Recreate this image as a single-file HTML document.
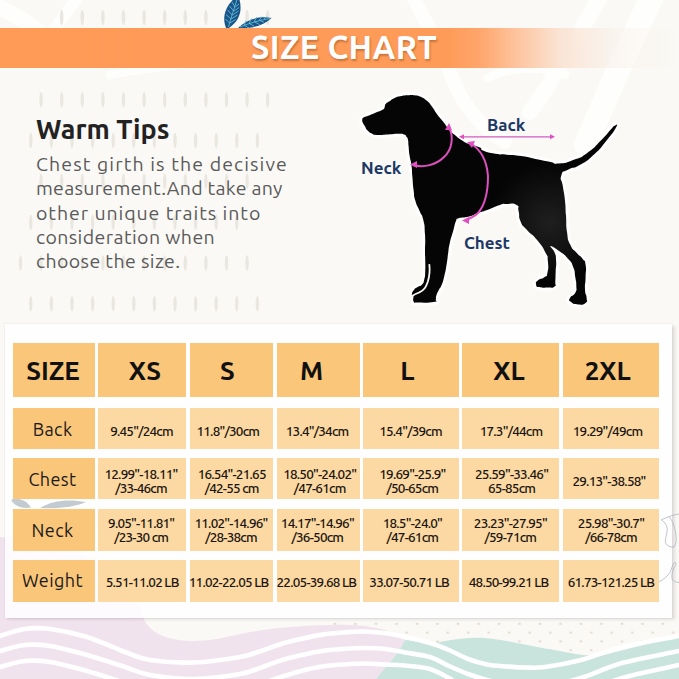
<!DOCTYPE html>
<html><head><meta charset="utf-8">
<style>
*{box-sizing:border-box}
html,body{margin:0;padding:0}
body{width:679px;height:679px;overflow:hidden;position:relative;background:#FAF9F5;font-family:"Ubuntu","Liberation Sans",sans-serif}
svg{position:absolute;left:0;top:0}
.banner{position:absolute;left:0;top:28px;width:679px;height:40px;background:linear-gradient(90deg,#FF9A57 0%,#FF9B59 66%,#FFA56B 70.5%,#FDC6A2 76.5%,#FAE4D5 82.5%,rgba(249,240,233,0.6) 90%,rgba(248,246,242,0) 100%)}
.banner span{position:absolute;left:251px;top:1px;font-weight:700;font-size:32.5px;color:#fff;letter-spacing:0.35px;text-shadow:1px 1.5px 2px rgba(120,60,20,0.4)}
.wt{position:absolute;left:36px;top:112px;font-size:27px;font-weight:700;line-height:34px;color:#222;white-space:nowrap}
.tl{position:absolute;left:36px;font-size:19.5px;font-weight:400;line-height:24px;color:#5a5a5a;white-space:nowrap}
.lbl{position:absolute;font-size:17px;font-weight:700;color:#1D3866}
.panel{position:absolute;left:5px;top:323.5px;width:667px;height:294px;background:rgba(255,255,255,0.86);box-shadow:0 0 1.5px rgba(60,50,60,0.16),3px 1.5px 3px rgba(60,50,60,0.13)}
.c{position:absolute;display:flex;align-items:center;justify-content:center;text-align:center}
.h{background:#FAC67A;font-weight:700;font-size:26px;color:#111}
.l{background:#FAC67A;font-size:18px;color:#1a1a1a;letter-spacing:0.4px}
.l span{position:relative;left:-1.5px;top:0px}
.d{background:#FCD8A2;font-size:13.5px;font-weight:500;line-height:14px;color:#1a1510;letter-spacing:-0.78px;white-space:nowrap;padding-top:5px}
</style></head>
<body>
<svg width="679" height="679" viewBox="0 0 679 679">
 <!-- faint white curves -->
 <g fill="none" stroke="#FFFFFF" stroke-width="12" opacity="0.85" stroke-linecap="round">
  <path d="M410,-8 C428,25 445,58 455,85 C468,112 485,130 505,142" stroke-width="14"/>
  <path d="M603,-8 C590,15 578,35 566,55 C555,75 545,92 530,112" stroke-width="16"/>
  <path d="M654,-8 C632,40 606,95 586,145" stroke-width="24"/>
  <path d="M488,78 C505,68 540,64 565,74" stroke-width="9"/>
  <path d="M52,34 C60,20 70,8 82,-8"/>
  <path d="M-5,5 C10,12 25,20 38,32" stroke-width="16"/>
  <path d="M110,75 C150,68 200,62 250,58" stroke-width="8"/>
 </g>
 <g fill="#EAE7E1"><ellipse cx="41.1" cy="99.8" rx="1.7" ry="7.8"/><ellipse cx="61.7" cy="99.8" rx="1.7" ry="7.8"/><ellipse cx="82.3" cy="99.8" rx="1.7" ry="7.8"/><ellipse cx="102.9" cy="99.8" rx="1.7" ry="7.8"/><ellipse cx="123.5" cy="99.8" rx="1.7" ry="7.8"/><ellipse cx="144.1" cy="99.8" rx="1.7" ry="7.8"/><ellipse cx="164.7" cy="99.8" rx="1.7" ry="7.8"/><ellipse cx="185.3" cy="99.8" rx="1.7" ry="7.8"/><ellipse cx="205.9" cy="99.8" rx="1.7" ry="7.8"/><ellipse cx="226.5" cy="99.8" rx="1.7" ry="7.8"/><ellipse cx="247.1" cy="99.8" rx="1.7" ry="7.8"/><ellipse cx="267.7" cy="99.8" rx="1.7" ry="7.8"/><ellipse cx="30.8" cy="140.6" rx="1.7" ry="7.8"/><ellipse cx="51.4" cy="140.6" rx="1.7" ry="7.8"/><ellipse cx="72.0" cy="140.6" rx="1.7" ry="7.8"/><ellipse cx="92.6" cy="140.6" rx="1.7" ry="7.8"/><ellipse cx="113.2" cy="140.6" rx="1.7" ry="7.8"/><ellipse cx="133.8" cy="140.6" rx="1.7" ry="7.8"/><ellipse cx="154.4" cy="140.6" rx="1.7" ry="7.8"/><ellipse cx="175.0" cy="140.6" rx="1.7" ry="7.8"/><ellipse cx="195.6" cy="140.6" rx="1.7" ry="7.8"/><ellipse cx="216.2" cy="140.6" rx="1.7" ry="7.8"/><ellipse cx="236.8" cy="140.6" rx="1.7" ry="7.8"/><ellipse cx="257.4" cy="140.6" rx="1.7" ry="7.8"/><ellipse cx="41.1" cy="181.4" rx="1.7" ry="7.8"/><ellipse cx="61.7" cy="181.4" rx="1.7" ry="7.8"/><ellipse cx="82.3" cy="181.4" rx="1.7" ry="7.8"/><ellipse cx="102.9" cy="181.4" rx="1.7" ry="7.8"/><ellipse cx="123.5" cy="181.4" rx="1.7" ry="7.8"/><ellipse cx="144.1" cy="181.4" rx="1.7" ry="7.8"/><ellipse cx="164.7" cy="181.4" rx="1.7" ry="7.8"/><ellipse cx="185.3" cy="181.4" rx="1.7" ry="7.8"/><ellipse cx="205.9" cy="181.4" rx="1.7" ry="7.8"/><ellipse cx="226.5" cy="181.4" rx="1.7" ry="7.8"/><ellipse cx="247.1" cy="181.4" rx="1.7" ry="7.8"/><ellipse cx="30.8" cy="222.2" rx="1.7" ry="7.8"/><ellipse cx="51.4" cy="222.2" rx="1.7" ry="7.8"/><ellipse cx="72.0" cy="222.2" rx="1.7" ry="7.8"/><ellipse cx="92.6" cy="222.2" rx="1.7" ry="7.8"/><ellipse cx="113.2" cy="222.2" rx="1.7" ry="7.8"/><ellipse cx="133.8" cy="222.2" rx="1.7" ry="7.8"/><ellipse cx="154.4" cy="222.2" rx="1.7" ry="7.8"/><ellipse cx="175.0" cy="222.2" rx="1.7" ry="7.8"/><ellipse cx="195.6" cy="222.2" rx="1.7" ry="7.8"/><ellipse cx="216.2" cy="222.2" rx="1.7" ry="7.8"/><ellipse cx="236.8" cy="222.2" rx="1.7" ry="7.8"/><ellipse cx="20.5" cy="263" rx="1.7" ry="7.8"/><ellipse cx="41.1" cy="263" rx="1.7" ry="7.8"/><ellipse cx="61.7" cy="263" rx="1.7" ry="7.8"/><ellipse cx="82.3" cy="263" rx="1.7" ry="7.8"/><ellipse cx="102.9" cy="263" rx="1.7" ry="7.8"/><ellipse cx="123.5" cy="263" rx="1.7" ry="7.8"/><ellipse cx="144.1" cy="263" rx="1.7" ry="7.8"/><ellipse cx="164.7" cy="263" rx="1.7" ry="7.8"/><ellipse cx="185.3" cy="263" rx="1.7" ry="7.8"/><ellipse cx="205.9" cy="263" rx="1.7" ry="7.8"/><ellipse cx="226.5" cy="263" rx="1.7" ry="7.8"/><ellipse cx="247.1" cy="263" rx="1.7" ry="7.8"/><ellipse cx="30.8" cy="303.8" rx="1.7" ry="7.8"/><ellipse cx="51.4" cy="303.8" rx="1.7" ry="7.8"/><ellipse cx="72.0" cy="303.8" rx="1.7" ry="7.8"/><ellipse cx="92.6" cy="303.8" rx="1.7" ry="7.8"/><ellipse cx="113.2" cy="303.8" rx="1.7" ry="7.8"/><ellipse cx="133.8" cy="303.8" rx="1.7" ry="7.8"/><ellipse cx="154.4" cy="303.8" rx="1.7" ry="7.8"/><ellipse cx="175.0" cy="303.8" rx="1.7" ry="7.8"/><ellipse cx="195.6" cy="303.8" rx="1.7" ry="7.8"/><ellipse cx="216.2" cy="303.8" rx="1.7" ry="7.8"/><ellipse cx="236.8" cy="303.8" rx="1.7" ry="7.8"/><ellipse cx="257.4" cy="303.8" rx="1.7" ry="7.8"/></g>
 <g fill="#EAE7E1">
  <ellipse cx="61.7" cy="17.5" rx="1.8" ry="7.8"/><ellipse cx="82.3" cy="17.5" rx="1.8" ry="7.8"/><ellipse cx="102.9" cy="17.5" rx="1.8" ry="7.8"/><ellipse cx="123.5" cy="17.5" rx="1.8" ry="7.8"/>
  <ellipse cx="144.1" cy="17.5" rx="1.8" ry="7.8"/><ellipse cx="164.7" cy="17.5" rx="1.8" ry="7.8"/><ellipse cx="185.3" cy="17.5" rx="1.8" ry="7.8"/>
  <ellipse cx="205.9" cy="17.5" rx="1.8" ry="7.8"/><ellipse cx="247.1" cy="17.5" rx="1.8" ry="7.8"/><ellipse cx="267.7" cy="17.5" rx="1.8" ry="7.8"/>
 </g>
 <!-- leaves -->
 <g>
  <path d="M226,28 C221,15 227,4 238,-5 C243,8 241,20 229,28 Z" fill="#1A5589"/>
  <g stroke="#63BCD3" stroke-width="0.9" fill="none">
   <path d="M228.5,27 C231,18 234,9 237.5,-2"/>
   <path d="M229.5,23 L225.5,19 M230.8,19 L226,14.5 M232.2,15 L227.5,10 M233.6,11 L229.5,6 M235,7 L232,2"/>
   <path d="M230,23 L235.5,19.5 M231.2,19 L237.5,15 M232.6,15 L238.5,11 M234,11 L239,7.5 M235.4,7 L239,4"/>
  </g>
  <path d="M238,28 C246,20 258,15.5 271.5,18 C264,25 252,29.5 238,28 Z" fill="#1A5589"/>
  <g stroke="#63BCD3" stroke-width="0.9" fill="none">
   <path d="M240,27 C250,23 260,20 270,18.5"/>
   <path d="M244,25.5 L246,20.5 M249,23.6 L251.5,18.5 M254,21.8 L257,17 M259,20.3 L262,16.5 M264,19.2 L266.5,16.6"/>
   <path d="M244.5,25.5 L249,28 M249.5,23.6 L254.5,26.5 M254.5,21.8 L259.5,24.5 M259.5,20.3 L264,22.3"/>
  </g>
 </g>
 <!-- bottom decorations -->
 <defs>
  <pattern id="dots" x="0" y="0" width="20.5" height="17.6" patternUnits="userSpaceOnUse" patternTransform="translate(335,623.8)">
   <ellipse cx="0" cy="0" rx="1.5" ry="0.9" fill="#E2D9CD"/><ellipse cx="20.5" cy="0" rx="1.5" ry="0.9" fill="#E2D9CD"/>
   <ellipse cx="10.25" cy="8.8" rx="1.5" ry="0.9" fill="#E2D9CD"/>
   <ellipse cx="0" cy="17.6" rx="1.5" ry="0.9" fill="#E2D9CD"/><ellipse cx="20.5" cy="17.6" rx="1.5" ry="0.9" fill="#E2D9CD"/>
  </pattern>
 </defs>
 <rect x="330" y="618" width="349" height="45" fill="url(#dots)"/>
 <path d="M0,537 C60,540 110,560 133,590 C139,602 141,610 143,617 C148,631 163,640 190,641 C215,641 225,637 240,634 C265,629 290,626 330,625 C350,624 368,625 385,630 L405,640 C400,652 388,664 376,679 L0,679 Z" fill="#F1E3EE"/>
 <path d="M405,640 C420,642 430,643 440,642 C460,638 478,636 497,639.4 C516,642 535,647 554,650 C570,653 585,656 600,656 L679,636 L679,679 L376,679 C388,664 400,652 405,640 Z" fill="#C9E3DD"/>
 <g fill="none" stroke="#FFFFFF" stroke-width="4.6" stroke-linecap="round">
  <path d="M-6.0,639.0C-5.0,638.5 -5.2,637.7 0.0,636.0C5.2,634.3 16.7,630.2 25.0,629.0C33.3,627.8 39.7,627.7 50.0,629.0C60.3,630.3 74.5,633.2 87.0,637.0C99.5,640.8 114.5,648.2 125.0,652.0C135.5,655.8 138.3,658.2 150.0,660.0C161.7,661.8 180.0,663.0 195.0,662.5C210.0,662.0 229.0,658.9 240.0,657.0C251.0,655.1 254.2,653.2 261.0,651.0C267.8,648.8 274.2,646.0 281.0,644.0C287.8,642.0 295.2,640.3 302.0,638.7C308.8,637.1 315.2,635.6 322.0,634.6C328.8,633.6 336.0,633.0 343.0,632.5C350.0,632.0 356.0,631.2 364.0,631.5C372.0,631.8 380.0,632.1 391.0,634.0C402.0,635.9 420.3,640.3 430.0,643.0C439.7,645.7 442.7,647.3 449.0,650.0C455.3,652.7 461.7,656.6 468.0,659.0C474.3,661.4 480.5,663.2 487.0,664.5C493.5,665.8 500.5,666.0 507.0,666.5C513.5,667.0 519.7,667.4 526.0,667.5C532.3,667.6 535.8,668.2 545.0,667.0C554.2,665.8 568.2,663.3 581.0,660.0C593.8,656.7 605.7,651.0 622.0,647.0C638.3,643.0 667.7,638.3 679.0,636.0C690.3,633.7 688.2,633.5 690.0,633.0"/>
  <path d="M-6.0,654.0C-5.0,653.5 -5.2,652.5 0.0,651.0C5.2,649.5 16.7,645.8 25.0,645.0C33.3,644.2 39.7,644.3 50.0,646.0C60.3,647.7 74.5,651.5 87.0,655.0C99.5,658.5 114.5,663.7 125.0,667.0C135.5,670.3 138.3,673.0 150.0,675.0C161.7,677.0 180.0,679.2 195.0,679.0C210.0,678.8 229.0,675.9 240.0,674.0C251.0,672.1 254.2,669.9 261.0,667.6C267.8,665.3 274.2,662.5 281.0,660.4C287.8,658.3 295.2,656.6 302.0,655.0C308.8,653.4 315.2,652.0 322.0,651.0C328.8,650.0 336.0,649.5 343.0,649.0C350.0,648.5 357.0,648.0 364.0,648.0C371.0,648.0 378.2,648.2 385.0,649.0C391.8,649.8 397.5,651.2 405.0,652.5C412.5,653.8 422.7,654.8 430.0,657.0C437.3,659.2 442.7,663.2 449.0,666.0C455.3,668.8 461.7,671.7 468.0,674.0C474.3,676.3 480.5,678.3 487.0,680.0C493.5,681.7 497.3,683.0 507.0,684.0C516.7,685.0 532.7,687.0 545.0,686.0C557.3,685.0 568.2,681.8 581.0,678.0C593.8,674.2 605.7,667.5 622.0,663.0C638.3,658.5 667.7,653.5 679.0,651.0C690.3,648.5 688.2,648.5 690.0,648.0"/>
  <path d="M-6.0,670.0C-5.0,669.5 -5.2,668.5 0.0,667.0C5.2,665.5 16.7,661.8 25.0,661.0C33.3,660.2 39.7,660.3 50.0,662.0C60.3,663.7 74.5,667.5 87.0,671.0C99.5,674.5 114.5,679.7 125.0,683.0C135.5,686.3 138.3,689.0 150.0,691.0C161.7,693.0 180.0,695.2 195.0,695.0C210.0,694.8 229.0,691.8 240.0,690.0C251.0,688.2 254.2,686.2 261.0,684.0C267.8,681.8 274.2,679.2 281.0,677.0C287.8,674.8 295.2,672.5 302.0,670.7C308.8,669.0 315.2,667.5 322.0,666.5C328.8,665.5 336.0,665.0 343.0,664.5C350.0,664.0 357.0,663.5 364.0,663.5C371.0,663.5 377.3,664.1 385.0,664.5C392.7,664.9 402.5,665.2 410.0,666.0C417.5,666.8 423.5,667.0 430.0,669.0C436.5,671.0 442.7,674.8 449.0,678.0C455.3,681.2 452.0,684.3 468.0,688.0C484.0,691.7 526.2,699.2 545.0,700.0C563.8,700.8 568.2,696.7 581.0,693.0C593.8,689.3 605.7,682.7 622.0,678.0C638.3,673.3 667.7,667.7 679.0,665.0C690.3,662.3 688.2,662.5 690.0,662.0"/>
 </g>
</svg>

<div class="banner"><span>SIZE CHART</span></div>

<div class="wt">Warm Tips</div>
<div class="tl" style="top:152px;letter-spacing:1.1px">Chest girth is the decisive</div>
<div class="tl" style="top:176px;letter-spacing:0.29px">measurement.And take any</div>
<div class="tl" style="top:200.5px;letter-spacing:0.93px">other unique traits into</div>
<div class="tl" style="top:224.5px;letter-spacing:0.4px">consideration when</div>
<div class="tl" style="top:249px;letter-spacing:0.38px">choose the size.</div>

<svg width="679" height="330" viewBox="0 0 679 330">
 <defs><radialGradient id="dg" cx="550" cy="222" r="60" gradientUnits="userSpaceOnUse"><stop offset="0" stop-color="#1f1f1f"/><stop offset="0.65" stop-color="#0e0e0e"/><stop offset="1" stop-color="#050505"/></radialGradient></defs>
 <path d="M362.3,119.8C362.5,117.9 362.1,118.7 363.6,117.5C365.1,116.3 363.1,117.8 366.9,116.3C370.7,114.8 369.7,115.2 374.9,113.0C380.1,110.8 379.4,111.7 382.6,109.8C385.8,107.9 383.6,109.2 384.6,107.3C385.6,105.4 384.1,106.0 385.7,104.0C387.3,102.0 386.5,103.2 389.5,101.2C392.5,99.2 390.8,99.6 394.8,97.9C398.8,96.2 397.0,96.9 401.4,96.0C405.8,95.1 403.6,95.4 408.0,95.2C412.4,95.0 410.6,94.8 414.6,95.3C418.6,95.8 416.0,94.8 420.0,96.6C424.0,98.4 422.6,97.3 426.6,100.6C430.6,103.9 428.4,102.0 431.9,106.6C435.4,111.2 433.5,109.6 437.2,114.5C440.9,119.4 439.1,116.6 443.0,121.4C446.9,126.2 444.9,124.5 448.8,129.0C452.7,133.5 450.1,131.0 454.6,134.8C459.1,138.6 457.1,137.3 462.2,140.5C467.3,143.7 464.2,142.2 469.9,144.4C475.6,146.6 474.8,145.1 479.4,147.2C484.0,149.3 478.3,148.5 483.6,150.7C488.9,152.9 487.5,152.4 495.3,153.7C503.1,155.0 498.4,153.9 507.1,154.7C515.8,155.5 511.9,154.7 521.3,156.1C530.7,157.5 526.0,157.0 535.4,158.9C544.8,160.8 541.6,160.1 549.5,161.7C557.4,163.3 551.1,164.1 559.0,163.6C566.9,163.1 563.7,163.6 573.1,160.1C582.5,156.6 577.8,159.7 587.2,153.0C596.6,146.3 593.5,147.8 601.4,140.0C609.3,132.2 606.4,134.2 610.8,129.5C615.2,124.8 612.8,126.5 614.5,125.8C616.2,125.1 618.8,122.4 616.0,127.5C613.2,132.6 613.2,132.3 606.0,141.2C598.8,150.1 602.9,146.3 594.3,154.2C585.7,162.1 588.8,159.7 580.2,164.8C571.6,169.9 574.7,166.0 568.4,169.5C562.1,173.0 563.1,169.7 561.3,175.4C559.5,181.1 561.7,178.0 562.9,186.5C564.1,195.0 564.0,191.3 565.0,200.9C566.0,210.5 565.3,205.1 566.0,215.4C566.7,225.7 565.6,222.3 567.0,231.9C568.4,241.5 567.0,237.3 570.1,244.2C573.2,251.1 572.2,247.7 576.3,252.5C580.4,257.3 579.4,254.6 582.5,258.7C585.6,262.8 584.6,258.6 585.6,264.8C586.6,271.0 585.8,268.9 585.6,277.2C585.4,285.5 584.7,282.7 585.0,289.6C585.3,296.5 586.4,293.3 586.6,297.8C586.8,302.3 588.3,300.8 585.6,303.0C582.9,305.2 583.2,304.7 578.4,304.4C573.6,304.1 573.9,304.2 571.1,302.0C568.3,299.8 568.7,300.9 570.1,297.8C571.5,294.7 573.2,296.8 575.3,292.7C577.4,288.6 576.3,290.7 576.3,285.5C576.3,280.3 576.3,283.4 575.3,277.2C574.3,271.0 575.6,273.1 573.2,266.9C570.8,260.7 572.5,263.9 568.0,258.7C563.5,253.5 565.6,255.5 559.8,251.4C554.0,247.3 552.2,245.9 550.5,246.3C548.8,246.7 552.7,247.7 554.6,252.5C556.5,257.3 555.7,254.5 556.1,260.7C556.5,266.9 556.0,264.1 555.7,271.0C555.4,277.9 555.7,276.1 555.3,281.3C554.9,286.5 557.2,284.4 554.6,286.5C552.0,288.6 552.5,287.3 547.4,287.5C542.3,287.7 543.0,288.1 539.2,287.1C535.4,286.1 536.5,286.7 536.1,284.4C535.7,282.1 535.4,282.7 538.1,280.3C540.8,277.9 541.2,279.6 544.3,277.2C547.4,274.8 546.2,278.6 547.4,273.1C548.6,267.6 548.5,267.6 547.8,260.7C547.1,253.8 549.0,259.4 545.4,252.5C541.8,245.6 543.3,247.7 537.1,240.1C530.9,232.5 532.3,236.0 526.8,229.8C521.3,223.6 523.3,227.7 520.6,221.5C517.9,215.3 520.0,216.7 518.6,211.2C517.2,205.7 520.6,207.4 516.5,205.0C512.4,202.6 511.7,204.0 506.2,204.0C500.7,204.0 505.8,203.2 500.0,205.0C494.2,206.8 496.0,206.7 488.7,209.4C481.4,212.1 484.5,210.6 478.0,213.0C471.5,215.4 475.7,214.7 469.2,216.5C462.7,218.3 463.0,216.8 458.6,218.3C454.2,219.8 457.8,216.9 456.0,221.0C454.2,225.1 455.4,223.3 453.3,230.6C451.2,237.9 451.5,235.6 449.8,243.0C448.1,250.4 449.2,245.9 448.2,252.7C447.2,259.5 448.1,255.4 446.8,263.3C445.5,271.2 446.0,269.2 444.2,276.5C442.4,283.8 443.3,280.9 441.5,285.3C439.7,289.7 440.7,286.2 438.9,289.8C437.1,293.4 437.2,292.8 436.2,296.0C435.2,299.2 436.7,297.5 435.8,299.5C434.9,301.5 439.6,301.1 433.6,302.1C427.6,303.1 424.3,302.7 417.7,302.6C411.1,302.5 415.2,303.9 413.7,301.7C412.2,299.5 413.9,298.5 413.3,296.0C412.7,293.5 411.6,296.3 411.9,294.2C412.2,292.1 412.2,292.2 414.1,289.8C416.0,287.4 415.0,288.9 417.7,287.1C420.4,285.3 419.9,287.1 422.1,284.5C424.3,281.9 423.3,283.3 424.3,279.2C425.3,275.1 424.9,278.9 425.2,272.1C425.5,265.3 425.3,265.5 425.2,258.8C425.1,252.1 425.1,260.1 425.0,251.9C424.9,243.7 425.6,244.8 425.0,234.2C424.4,223.6 425.1,227.7 423.3,220.0C421.5,212.3 422.4,217.7 419.7,211.2C417.0,204.7 417.3,207.7 415.3,200.6C413.3,193.5 414.6,197.9 413.6,190.0C412.6,182.1 413.1,185.1 412.4,176.9C411.7,168.7 412.4,172.4 411.5,165.4C410.6,158.4 410.6,162.2 409.6,155.8C408.6,149.4 409.1,151.6 408.6,146.3C408.1,141.0 408.6,143.1 408.0,140.0C407.4,136.9 408.0,138.9 406.7,137.0C405.4,135.1 406.7,135.5 404.0,134.4C401.3,133.3 404.0,133.7 398.7,133.7C393.4,133.7 395.6,134.0 388.1,134.4C380.6,134.8 381.5,135.2 376.2,135.0C370.9,134.8 375.1,135.2 372.2,133.7C369.3,132.2 370.0,132.8 367.6,130.4C365.2,128.0 366.5,128.8 365.0,126.4C363.5,124.0 363.9,125.3 363.0,123.1C362.1,120.9 362.1,121.7 362.3,119.8Z" fill="none" stroke="#FFFFFF" stroke-width="6" stroke-linejoin="round" opacity="0.85"/>
 <path d="M362.3,119.8C362.5,117.9 362.1,118.7 363.6,117.5C365.1,116.3 363.1,117.8 366.9,116.3C370.7,114.8 369.7,115.2 374.9,113.0C380.1,110.8 379.4,111.7 382.6,109.8C385.8,107.9 383.6,109.2 384.6,107.3C385.6,105.4 384.1,106.0 385.7,104.0C387.3,102.0 386.5,103.2 389.5,101.2C392.5,99.2 390.8,99.6 394.8,97.9C398.8,96.2 397.0,96.9 401.4,96.0C405.8,95.1 403.6,95.4 408.0,95.2C412.4,95.0 410.6,94.8 414.6,95.3C418.6,95.8 416.0,94.8 420.0,96.6C424.0,98.4 422.6,97.3 426.6,100.6C430.6,103.9 428.4,102.0 431.9,106.6C435.4,111.2 433.5,109.6 437.2,114.5C440.9,119.4 439.1,116.6 443.0,121.4C446.9,126.2 444.9,124.5 448.8,129.0C452.7,133.5 450.1,131.0 454.6,134.8C459.1,138.6 457.1,137.3 462.2,140.5C467.3,143.7 464.2,142.2 469.9,144.4C475.6,146.6 474.8,145.1 479.4,147.2C484.0,149.3 478.3,148.5 483.6,150.7C488.9,152.9 487.5,152.4 495.3,153.7C503.1,155.0 498.4,153.9 507.1,154.7C515.8,155.5 511.9,154.7 521.3,156.1C530.7,157.5 526.0,157.0 535.4,158.9C544.8,160.8 541.6,160.1 549.5,161.7C557.4,163.3 551.1,164.1 559.0,163.6C566.9,163.1 563.7,163.6 573.1,160.1C582.5,156.6 577.8,159.7 587.2,153.0C596.6,146.3 593.5,147.8 601.4,140.0C609.3,132.2 606.4,134.2 610.8,129.5C615.2,124.8 612.8,126.5 614.5,125.8C616.2,125.1 618.8,122.4 616.0,127.5C613.2,132.6 613.2,132.3 606.0,141.2C598.8,150.1 602.9,146.3 594.3,154.2C585.7,162.1 588.8,159.7 580.2,164.8C571.6,169.9 574.7,166.0 568.4,169.5C562.1,173.0 563.1,169.7 561.3,175.4C559.5,181.1 561.7,178.0 562.9,186.5C564.1,195.0 564.0,191.3 565.0,200.9C566.0,210.5 565.3,205.1 566.0,215.4C566.7,225.7 565.6,222.3 567.0,231.9C568.4,241.5 567.0,237.3 570.1,244.2C573.2,251.1 572.2,247.7 576.3,252.5C580.4,257.3 579.4,254.6 582.5,258.7C585.6,262.8 584.6,258.6 585.6,264.8C586.6,271.0 585.8,268.9 585.6,277.2C585.4,285.5 584.7,282.7 585.0,289.6C585.3,296.5 586.4,293.3 586.6,297.8C586.8,302.3 588.3,300.8 585.6,303.0C582.9,305.2 583.2,304.7 578.4,304.4C573.6,304.1 573.9,304.2 571.1,302.0C568.3,299.8 568.7,300.9 570.1,297.8C571.5,294.7 573.2,296.8 575.3,292.7C577.4,288.6 576.3,290.7 576.3,285.5C576.3,280.3 576.3,283.4 575.3,277.2C574.3,271.0 575.6,273.1 573.2,266.9C570.8,260.7 572.5,263.9 568.0,258.7C563.5,253.5 565.6,255.5 559.8,251.4C554.0,247.3 552.2,245.9 550.5,246.3C548.8,246.7 552.7,247.7 554.6,252.5C556.5,257.3 555.7,254.5 556.1,260.7C556.5,266.9 556.0,264.1 555.7,271.0C555.4,277.9 555.7,276.1 555.3,281.3C554.9,286.5 557.2,284.4 554.6,286.5C552.0,288.6 552.5,287.3 547.4,287.5C542.3,287.7 543.0,288.1 539.2,287.1C535.4,286.1 536.5,286.7 536.1,284.4C535.7,282.1 535.4,282.7 538.1,280.3C540.8,277.9 541.2,279.6 544.3,277.2C547.4,274.8 546.2,278.6 547.4,273.1C548.6,267.6 548.5,267.6 547.8,260.7C547.1,253.8 549.0,259.4 545.4,252.5C541.8,245.6 543.3,247.7 537.1,240.1C530.9,232.5 532.3,236.0 526.8,229.8C521.3,223.6 523.3,227.7 520.6,221.5C517.9,215.3 520.0,216.7 518.6,211.2C517.2,205.7 520.6,207.4 516.5,205.0C512.4,202.6 511.7,204.0 506.2,204.0C500.7,204.0 505.8,203.2 500.0,205.0C494.2,206.8 496.0,206.7 488.7,209.4C481.4,212.1 484.5,210.6 478.0,213.0C471.5,215.4 475.7,214.7 469.2,216.5C462.7,218.3 463.0,216.8 458.6,218.3C454.2,219.8 457.8,216.9 456.0,221.0C454.2,225.1 455.4,223.3 453.3,230.6C451.2,237.9 451.5,235.6 449.8,243.0C448.1,250.4 449.2,245.9 448.2,252.7C447.2,259.5 448.1,255.4 446.8,263.3C445.5,271.2 446.0,269.2 444.2,276.5C442.4,283.8 443.3,280.9 441.5,285.3C439.7,289.7 440.7,286.2 438.9,289.8C437.1,293.4 437.2,292.8 436.2,296.0C435.2,299.2 436.7,297.5 435.8,299.5C434.9,301.5 439.6,301.1 433.6,302.1C427.6,303.1 424.3,302.7 417.7,302.6C411.1,302.5 415.2,303.9 413.7,301.7C412.2,299.5 413.9,298.5 413.3,296.0C412.7,293.5 411.6,296.3 411.9,294.2C412.2,292.1 412.2,292.2 414.1,289.8C416.0,287.4 415.0,288.9 417.7,287.1C420.4,285.3 419.9,287.1 422.1,284.5C424.3,281.9 423.3,283.3 424.3,279.2C425.3,275.1 424.9,278.9 425.2,272.1C425.5,265.3 425.3,265.5 425.2,258.8C425.1,252.1 425.1,260.1 425.0,251.9C424.9,243.7 425.6,244.8 425.0,234.2C424.4,223.6 425.1,227.7 423.3,220.0C421.5,212.3 422.4,217.7 419.7,211.2C417.0,204.7 417.3,207.7 415.3,200.6C413.3,193.5 414.6,197.9 413.6,190.0C412.6,182.1 413.1,185.1 412.4,176.9C411.7,168.7 412.4,172.4 411.5,165.4C410.6,158.4 410.6,162.2 409.6,155.8C408.6,149.4 409.1,151.6 408.6,146.3C408.1,141.0 408.6,143.1 408.0,140.0C407.4,136.9 408.0,138.9 406.7,137.0C405.4,135.1 406.7,135.5 404.0,134.4C401.3,133.3 404.0,133.7 398.7,133.7C393.4,133.7 395.6,134.0 388.1,134.4C380.6,134.8 381.5,135.2 376.2,135.0C370.9,134.8 375.1,135.2 372.2,133.7C369.3,132.2 370.0,132.8 367.6,130.4C365.2,128.0 366.5,128.8 365.0,126.4C363.5,124.0 363.9,125.3 363.0,123.1C362.1,120.9 362.1,121.7 362.3,119.8Z" fill="url(#dg)"/>
 <path d="M429.3,264.1 C430,270 429.6,276 427.8,281.8 C426,287 424.7,289.8 419.4,292.4 C416,293.8 414,294.6 412.4,296" fill="none" stroke="#FAF9F5" stroke-width="1.8"/>
 <g fill="none" stroke="#E04FC0" stroke-width="2">
  <path d="M449,127 C454,137 452,150 444,157 C436,165 424,168 413,165"/>
  <path d="M470,143 C482,150 487,163 488,176 C488,194 485,205 478,213 C474,217 469,219 465,220.5"/>
 </g>
 <path d="M461,136.8 L552,136.8" stroke="#D45AC2" stroke-width="1.2"/>
 <g fill="#E04FC0">
  <path d="M449,123 L445,130 L452,130 Z"/>
  <path d="M410,164.5 L417,161 L417,168 Z"/>
  <path d="M467,142 L475,141 L472,148 Z"/>
  <path d="M462,220.5 L469,217 L469,224 Z"/>
  <path d="M459,136.8 L464,134.3 L464,139.3 Z"/>
  <path d="M555,136.8 L550,134.3 L550,139.3 Z"/>
 </g>
</svg>
<div class="lbl" style="left:487px;top:114.5px">Back</div>
<div class="lbl" style="left:361px;top:158px">Neck</div>
<div class="lbl" style="left:464px;top:232.5px">Chest</div>

<div class="panel"></div>
<svg width="679" height="679" viewBox="0 0 679 679">
 <g fill="#C3CBD2">
  <path d="M11,500 C16,497 26,499 31,507.5 C24,509 15,507 11,500 Z"/>
  <path d="M40,508 C52,500 70,499 86,502 C75,507 58,509 40,508 Z"/>
 </g>
 <g fill="none" stroke="#A3ADBA" stroke-width="0.7">
  <path d="M661.3,519.9 C667,517 673,515 679,514"/>
  <path d="M661.3,519.9 C665,522 667.5,526 667.2,530 C667,535 664.5,540 665.5,543 C667,546 671,547.5 674,547 C676.5,544 676.5,538 675.5,532 C674.5,526 672.5,521 669.4,516.9"/>
  <path d="M659.1,581.7 C663,580 668,576 670.2,572.1 C672,568 672.5,564 674.6,562.5 C676.5,562 676.5,565 674.6,567 C672.5,570 671,576 672.4,579.5 C674,582 677,582.4 679,582.4"/>
 </g>
</svg>
<div class="c h" style="left:13px;top:343px;width:82px;height:54px"><span style="position:relative;left:-1px">SIZE</span></div>
<div class="c h" style="left:98px;top:343px;width:88px;height:54px"><span style="position:relative;left:3px">XS</span></div>
<div class="c h" style="left:190px;top:343px;width:83px;height:54px"><span style="position:relative;left:-4px">S</span></div>
<div class="c h" style="left:277px;top:343px;width:83px;height:54px"><span style="position:relative;left:-7px">M</span></div>
<div class="c h" style="left:363px;top:343px;width:96px;height:54px"><span style="position:relative;left:-3.7px">L</span></div>
<div class="c h" style="left:462px;top:343px;width:97px;height:54px"><span style="position:relative;left:-1.5px">XL</span></div>
<div class="c h" style="left:563px;top:343px;width:96px;height:54px"><span style="position:relative;left:-3.3px">2XL</span></div>
<div class="c l" style="left:13px;top:408px;width:82px;height:41px"><span style="top:0px">Back</span></div>
<div class="c d" style="left:98px;top:408px;width:88px;height:41px"><span style="position:relative;left:-0.5px;top:-0.5px">9.45''/24cm</span></div>
<div class="c d" style="left:190px;top:408px;width:83px;height:41px"><span style="position:relative;left:-3.7px;top:-0.5px">11.8''/30cm</span></div>
<div class="c d" style="left:277px;top:408px;width:83px;height:41px"><span style="position:relative;left:-1.4px;top:-0.5px">13.4''/34cm</span></div>
<div class="c d" style="left:363px;top:408px;width:96px;height:41px"><span style="position:relative;left:-0.5px;top:-0.5px">15.4''/39cm</span></div>
<div class="c d" style="left:462px;top:408px;width:97px;height:41px"><span style="position:relative;left:0.5px;top:-0.5px">17.3''/44cm</span></div>
<div class="c d" style="left:563px;top:408px;width:96px;height:41px"><span style="position:relative;left:-3.5px;top:-0.5px">19.29''/49cm</span></div>
<div class="c l" style="left:13px;top:458px;width:82px;height:41px"><span style="top:0px">Chest</span></div>
<div class="c d" style="left:98px;top:458px;width:88px;height:41px"><span style="position:relative;left:-1.0px;top:0px">12.99''-18.11''<br>/33-46cm</span></div>
<div class="c d" style="left:190px;top:458px;width:83px;height:41px"><span style="position:relative;left:0.2px;top:0px">16.54''-21.65<br>/42-55 cm</span></div>
<div class="c d" style="left:277px;top:458px;width:83px;height:41px"><span style="position:relative;left:1.2px;top:0px">18.50''-24.02''<br>/47-61cm</span></div>
<div class="c d" style="left:363px;top:458px;width:96px;height:41px"><span style="position:relative;left:1.4px;top:0px">19.69''-25.9''<br>/50-65cm</span></div>
<div class="c d" style="left:462px;top:458px;width:97px;height:41px"><span style="position:relative;left:1.1px;top:0px">25.59''-33.46''<br>65-85cm</span></div>
<div class="c d" style="left:563px;top:458px;width:96px;height:41px"><span style="position:relative;left:-2.0px;top:0px">29.13''-38.58''</span></div>
<div class="c l" style="left:13px;top:509px;width:82px;height:42px"><span style="top:0px">Neck</span></div>
<div class="c d" style="left:98px;top:509px;width:88px;height:42px"><span style="position:relative;left:-0.8px;top:-2.5px">9.05''-11.81''<br>/23-30 cm</span></div>
<div class="c d" style="left:190px;top:509px;width:83px;height:42px"><span style="position:relative;left:-0.5px;top:-2.5px">11.02''-14.96''<br>/28-38cm</span></div>
<div class="c d" style="left:277px;top:509px;width:83px;height:42px"><span style="position:relative;left:-1.1px;top:-2.5px">14.17''-14.96''<br>/36-50cm</span></div>
<div class="c d" style="left:363px;top:509px;width:96px;height:42px"><span style="position:relative;left:1.4px;top:-2.5px">18.5''-24.0''<br>/47-61cm</span></div>
<div class="c d" style="left:462px;top:509px;width:97px;height:42px"><span style="position:relative;left:-0.1px;top:-2.5px">23.23''-27.95''<br>/59-71cm</span></div>
<div class="c d" style="left:563px;top:509px;width:96px;height:42px"><span style="position:relative;left:0px;top:-2.5px">25.98''-30.7''<br>/66-78cm</span></div>
<div class="c l" style="left:13px;top:560px;width:82px;height:42px"><span style="top:-1.2px">Weight</span></div>
<div class="c d" style="left:98px;top:560px;width:88px;height:42px"><span style="position:relative;left:0.2px;top:-1.5px">5.51-11.02 LB</span></div>
<div class="c d" style="left:190px;top:560px;width:83px;height:42px"><span style="position:relative;left:-2.9px;top:-1.5px">11.02-22.05 LB</span></div>
<div class="c d" style="left:277px;top:560px;width:83px;height:42px"><span style="position:relative;left:-2.1px;top:-1.5px">22.05-39.68 LB</span></div>
<div class="c d" style="left:363px;top:560px;width:96px;height:42px"><span style="position:relative;left:-1.8px;top:-1.5px">33.07-50.71 LB</span></div>
<div class="c d" style="left:462px;top:560px;width:97px;height:42px"><span style="position:relative;left:-1.9px;top:-1.5px">48.50-99.21 LB</span></div>
<div class="c d" style="left:563px;top:560px;width:96px;height:42px"><span style="position:relative;left:0px;top:-1.5px">61.73-121.25 LB</span></div>
</body></html>
